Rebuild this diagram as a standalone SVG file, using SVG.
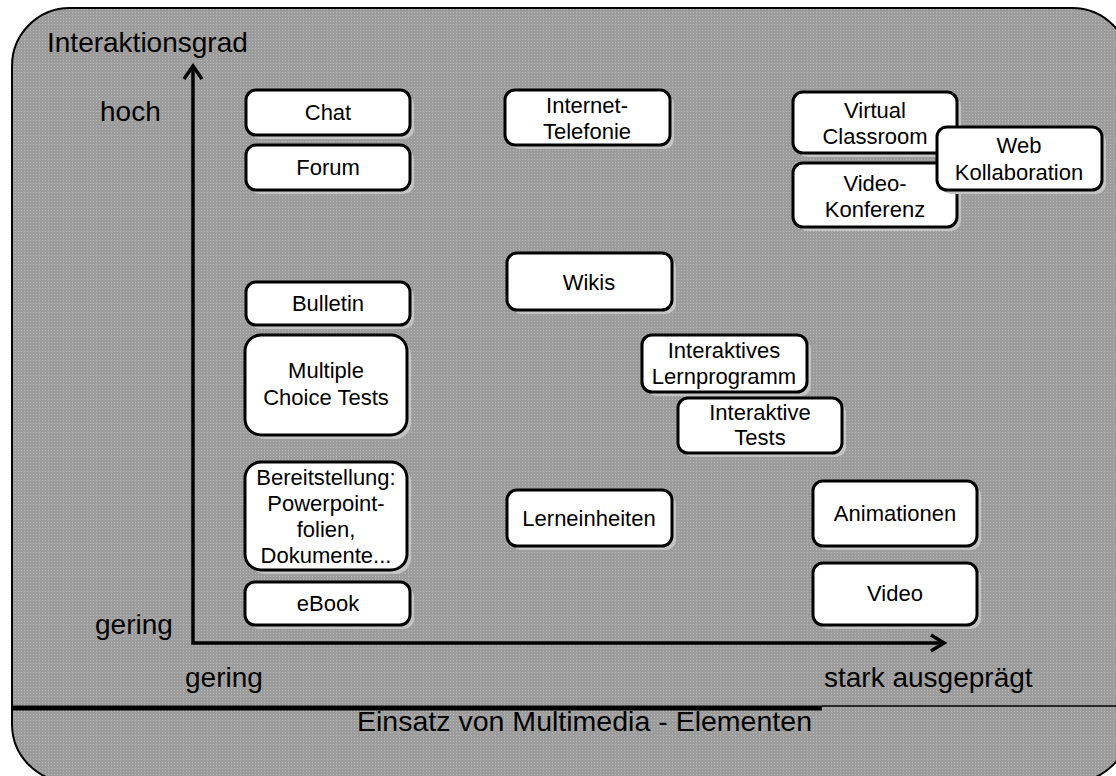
<svg xmlns="http://www.w3.org/2000/svg" width="1116" height="776" viewBox="0 0 1116 776">
<defs>
<pattern id="dots" width="3" height="3" patternUnits="userSpaceOnUse">
<rect width="3" height="3" fill="#9c9c9c"/>
<rect width="1" height="1" fill="#b8b8b8"/>
</pattern>
</defs>
<style>
.box{fill:#fff;stroke:#000;stroke-width:3}
.sh{fill:#c4c4c4}
.t{font-family:"Liberation Sans",Arial,sans-serif;font-size:22px;fill:#000;text-anchor:middle}
.big{font-family:"Liberation Sans",Arial,sans-serif;font-size:28px;fill:#000}
.axis{stroke:#000;stroke-width:3.5;fill:none}
</style>
<rect x="0" y="0" width="1116" height="776" fill="#fff"/>
<rect id="panel" x="12" y="8" width="1118" height="774" rx="58" ry="58" fill="url(#dots)" stroke="#000" stroke-width="2"/>
<line x1="12" y1="708" x2="822" y2="708" stroke="#000" stroke-width="5"/>
<line x1="822" y1="706" x2="1130" y2="706" stroke="#000" stroke-width="1.5"/>

<g id="connectors">
<polyline class="axis" points="193,68 193,643 943,643"/>
<polyline class="axis" points="184,79 193,66 202,79"/>
<polyline class="axis" points="931,635 944,643 931,651"/>
</g>

<g id="labels">
<text class="big" x="47" y="52">Interaktionsgrad</text>
<text class="big" x="100" y="121">hoch</text>
<text class="big" x="95" y="634">gering</text>
<text class="big" x="185" y="687">gering</text>
<text class="big" x="824" y="687">stark ausgeprägt</text>
<text class="big" x="357" y="731" textLength="455" lengthAdjust="spacingAndGlyphs">Einsatz von Multimedia - Elementen</text>
</g>

<g id="chat"><rect class="sh" x="250" y="94" width="164" height="45" rx="10"/><rect class="box" x="246" y="90" width="164" height="45" rx="10"/><text class="t" x="328" y="120">Chat</text></g>
<g id="forum"><rect class="sh" x="250" y="149" width="164" height="45" rx="10"/><rect class="box" x="246" y="145" width="164" height="45" rx="10"/><text class="t" x="328" y="175">Forum</text></g>
<g id="bulletin"><rect class="sh" x="250" y="286" width="164" height="43" rx="10"/><rect class="box" x="246" y="282" width="164" height="43" rx="10"/><text class="t" x="328" y="311">Bulletin</text></g>
<g id="multiple-choice"><rect class="sh" x="249" y="339" width="162" height="100" rx="16"/><rect class="box" x="245" y="335" width="162" height="100" rx="16"/><text class="t" x="326" y="378">Multiple</text><text class="t" x="326" y="405">Choice Tests</text></g>
<g id="bereitstellung"><rect class="sh" x="249" y="466" width="162" height="108" rx="16"/><rect class="box" x="245" y="462" width="162" height="108" rx="16"/><text class="t" x="326" y="485">Bereitstellung:</text><text class="t" x="326" y="511">Powerpoint-</text><text class="t" x="326" y="537">folien,</text><text class="t" x="326" y="563">Dokumente...</text></g>
<g id="ebook"><rect class="sh" x="249" y="586" width="165" height="43" rx="10"/><rect class="box" x="245" y="582" width="165" height="43" rx="10"/><text class="t" x="328" y="611">eBook</text></g>

<g id="internet-telefonie"><rect class="sh" x="509" y="94" width="165" height="55" rx="10"/><rect class="box" x="505" y="90" width="165" height="55" rx="10"/><text class="t" x="587" y="113">Internet-</text><text class="t" x="587" y="139">Telefonie</text></g>
<g id="wikis"><rect class="sh" x="511" y="257" width="165" height="57" rx="10"/><rect class="box" x="507" y="253" width="165" height="57" rx="10"/><text class="t" x="589" y="290">Wikis</text></g>
<g id="lerneinheiten"><rect class="sh" x="511" y="494" width="165" height="56" rx="10"/><rect class="box" x="507" y="490" width="165" height="56" rx="10"/><text class="t" x="589" y="526">Lerneinheiten</text></g>

<g id="interaktives-lernprogramm"><rect class="sh" x="646" y="339" width="165" height="57" rx="10"/><rect class="box" x="642" y="335" width="165" height="57" rx="10"/><text class="t" x="724" y="358">Interaktives</text><text class="t" x="724" y="384">Lernprogramm</text></g>
<g id="interaktive-tests"><rect class="sh" x="682" y="402" width="164" height="55" rx="10"/><rect class="box" x="678" y="398" width="164" height="55" rx="10"/><text class="t" x="760" y="420">Interaktive</text><text class="t" x="760" y="445">Tests</text></g>

<g id="virtual-classroom"><rect class="sh" x="797" y="96" width="164" height="61" rx="10"/><rect class="box" x="793" y="92" width="164" height="61" rx="10"/><text class="t" x="875" y="118">Virtual</text><text class="t" x="875" y="144">Classroom</text></g>
<g id="video-konferenz"><rect class="sh" x="797" y="167" width="164" height="64" rx="10"/><rect class="box" x="793" y="163" width="164" height="64" rx="10"/><text class="t" x="875" y="191">Video-</text><text class="t" x="875" y="217">Konferenz</text></g>
<g id="web-kollaboration"><rect class="sh" x="941" y="131" width="165" height="63" rx="10"/><rect class="box" x="937" y="127" width="165" height="63" rx="10"/><text class="t" x="1019" y="153">Web</text><text class="t" x="1019" y="180">Kollaboration</text></g>

<g id="animationen"><rect class="sh" x="817" y="485" width="164" height="65" rx="10"/><rect class="box" x="813" y="481" width="164" height="65" rx="10"/><text class="t" x="895" y="521">Animationen</text></g>
<g id="video"><rect class="sh" x="817" y="567" width="164" height="62" rx="10"/><rect class="box" x="813" y="563" width="164" height="62" rx="10"/><text class="t" x="895" y="601">Video</text></g>
</svg>
